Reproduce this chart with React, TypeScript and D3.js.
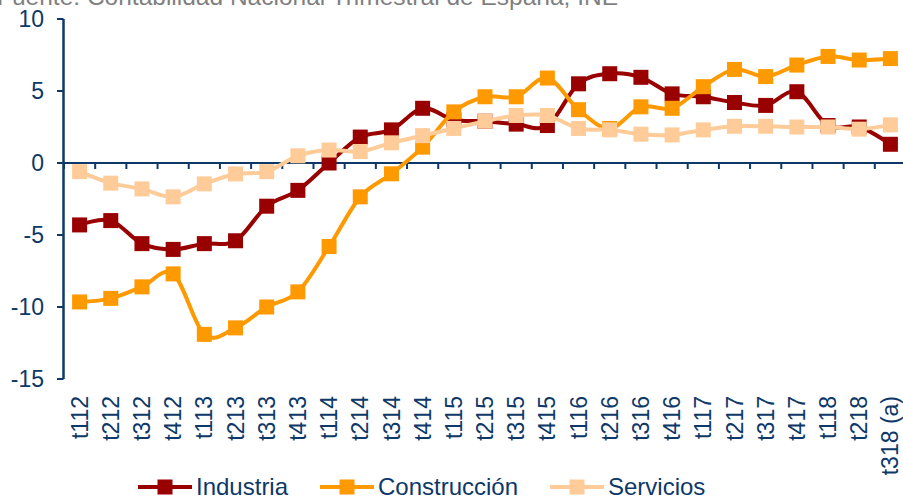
import React, { useEffect, useRef } from "react";
import * as d3 from "d3";

// quarters (tNYY)
const categories = [
  "t112", "t212", "t312", "t412",
  "t113", "t213", "t313", "t413",
  "t114", "t214", "t314", "t414",
  "t115", "t215", "t315", "t415",
  "t116", "t216", "t316", "t416",
  "t117", "t217", "t317", "t417",
  "t118", "t218", "t318 (a)",
];

const industria = [
  -4.3, -4.0, -5.6, -6.0, -5.6, -5.4, -3.0, -1.9,
  0.0, 1.8, 2.3, 3.8, 3.0, 2.9, 2.7, 2.6,
  5.5, 6.2, 5.95, 4.8, 4.6, 4.2, 4.0, 4.95,
  2.6, 2.5, 1.3,
];

const construccion = [
  -9.65, -9.4, -8.6, -7.7, -11.9, -11.45, -10.0, -8.95,
  -5.8, -2.35, -0.75, 1.1, 3.55, 4.6, 4.6, 5.9,
  3.7, 2.4, 3.9, 3.8, 5.3, 6.5, 6.0, 6.8,
  7.4, 7.15, 7.25,
];

const servicios = [
  -0.6, -1.4, -1.8, -2.35, -1.45, -0.76, -0.6, 0.5,
  0.9, 0.8, 1.4, 1.9, 2.4, 2.9, 3.3, 3.3,
  2.4, 2.3, 2.0, 1.95, 2.3, 2.55, 2.55, 2.5,
  2.5, 2.35, 2.65,
];

const seriesNames = ["Industria", "Construcción", "Servicios"];
const seriesColors = ["#990000", "#ff9900", "#ffcc99"];
const yTicks = [10, 5, 0, -5, -10, -15];

const title = "Fuente: Contabilidad Nacional Trimestral de España, INE";

const App = () => {
  const ref = useRef<SVGSVGElement | null>(null);

  useEffect(() => {
    if (!ref.current) return;
    const svg = d3.select(ref.current);
    svg.selectAll("*").remove();

    const axisColor = "#0d3868";
    const font = "'Liberation Sans', Arial, sans-serif";

    const x = d3.scaleBand<string>().domain(categories).range([64, 906]).padding(0);
    const y = d3.scaleLinear().domain([-15, 10]).range([379, 19]);
    const cx = (c: string) => (x(c) as number) + x.bandwidth() / 2;

    // source note, cut off at the top
    svg
      .append("text")
      .attr("x", -3)
      .attr("y", 5)
      .attr("font-family", font)
      .attr("font-size", 24.5)
      .attr("fill", "#7f7f7f")
      .text(title);

    // y axis
    const yAxis = svg.append("g");
    yAxis
      .append("line")
      .attr("x1", 63.5)
      .attr("x2", 63.5)
      .attr("y1", y(10))
      .attr("y2", y(-15))
      .attr("stroke", axisColor)
      .attr("stroke-width", 2.5);
    yTicks.forEach((t) => {
      yAxis
        .append("line")
        .attr("x1", 57)
        .attr("x2", 63.5)
        .attr("y1", y(t))
        .attr("y2", y(t))
        .attr("stroke", axisColor)
        .attr("stroke-width", 2);
      yAxis
        .append("text")
        .attr("x", 44)
        .attr("y", y(t))
        .attr("dy", "0.35em")
        .attr("text-anchor", "end")
        .attr("font-family", font)
        .attr("font-size", 23)
        .attr("fill", axisColor)
        .text(t);
    });

    // x axis on zero line
    const xAxis = svg.append("g");
    xAxis
      .append("line")
      .attr("x1", 57)
      .attr("x2", 906)
      .attr("y1", y(0))
      .attr("y2", y(0))
      .attr("stroke", axisColor)
      .attr("stroke-width", 2);
    categories.forEach((c) => {
      xAxis
        .append("line")
        .attr("x1", x(c) as number)
        .attr("x2", x(c) as number)
        .attr("y1", y(0))
        .attr("y2", y(0) + 6)
        .attr("stroke", axisColor)
        .attr("stroke-width", 2);
      xAxis
        .append("text")
        .attr("transform", `translate(${cx(c)},396) rotate(-90)`)
        .attr("dy", "0.35em")
        .attr("text-anchor", "end")
        .attr("font-family", font)
        .attr("font-size", 23)
        .attr("fill", axisColor)
        .text(c);
    });

    // lines + markers
    const data = [industria, construccion, servicios];
    const line = d3
      .line<number>()
      .x((_, i) => cx(categories[i]))
      .y((d) => y(d))
      .curve(d3.curveCardinal.tension(0));

    const ms = 15;
    data.forEach((vals, s) => {
      const g = svg.append("g");
      g.append("path")
        .attr("d", line(vals))
        .attr("fill", "none")
        .attr("stroke", seriesColors[s])
        .attr("stroke-width", 4);
      g.selectAll("rect")
        .data(vals)
        .enter()
        .append("rect")
        .attr("x", (_, i) => cx(categories[i]) - ms / 2)
        .attr("y", (d) => y(d) - ms / 2)
        .attr("width", ms)
        .attr("height", ms)
        .attr("fill", seriesColors[s]);
    });

    // legend
    const legendX = [138, 320, 550];
    const ly = 487;
    seriesNames.forEach((name, i) => {
      const g = svg.append("g").attr("transform", `translate(${legendX[i]},${ly})`);
      g.append("line")
        .attr("x1", 0)
        .attr("x2", 54)
        .attr("stroke", seriesColors[i])
        .attr("stroke-width", 4);
      g.append("rect")
        .attr("x", 27 - ms / 2)
        .attr("y", -ms / 2)
        .attr("width", ms)
        .attr("height", ms)
        .attr("fill", seriesColors[i]);
      g.append("text")
        .attr("x", 58)
        .attr("dy", "0.35em")
        .attr("font-family", font)
        .attr("font-size", 24)
        .attr("fill", axisColor)
        .text(name);
    });
  }, []);

  return (
    <svg
      ref={ref}
      width={903}
      height={497}
      style={{ position: "absolute", left: 0, top: 0, background: "#fff" }}
    />
  );
};

export default App;
